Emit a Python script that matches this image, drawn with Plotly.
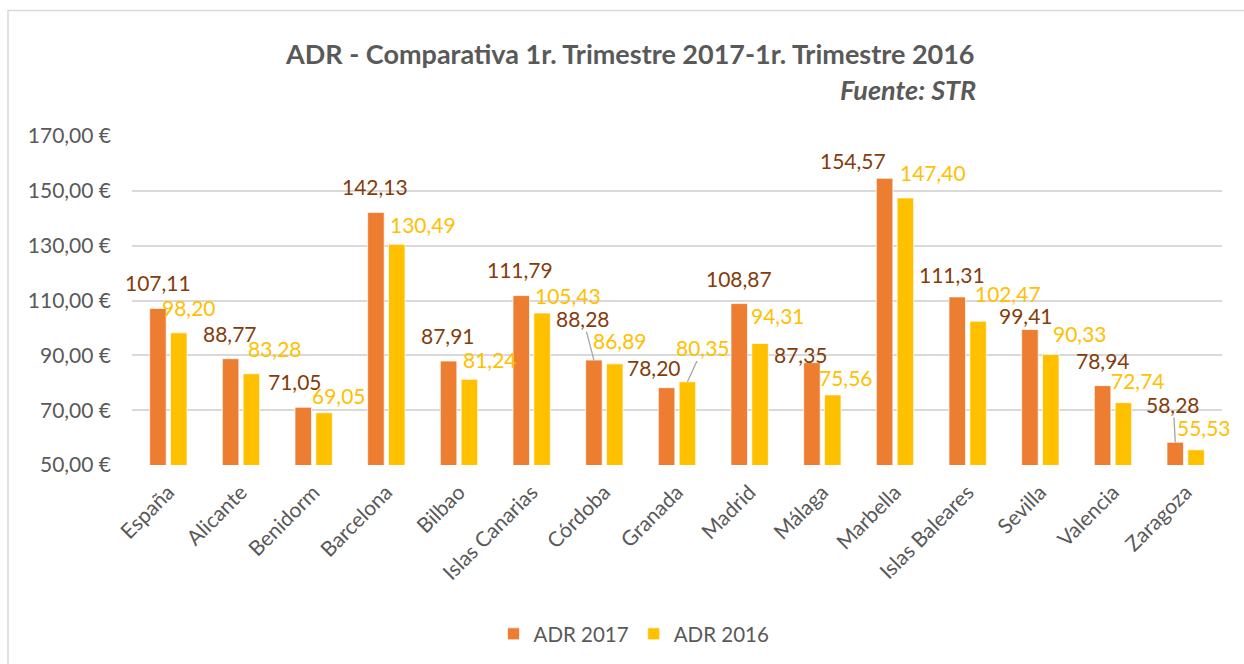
import plotly.graph_objects as go

# ---------------- data ----------------
categories = ["España", "Alicante", "Benidorm", "Barcelona", "Bilbao", "Islas Canarias",
              "Córdoba", "Granada", "Madrid", "Málaga", "Marbella", "Islas Baleares",
              "Sevilla", "Valencia", "Zaragoza"]
adr_2017 = [107.11, 88.77, 71.05, 142.13, 87.91, 111.79, 88.28, 78.20, 108.87, 87.35,
            154.57, 111.31, 99.41, 78.94, 58.28]
adr_2016 = [98.20, 83.28, 69.05, 130.49, 81.24, 105.43, 86.89, 80.35, 94.31, 75.56,
            147.40, 102.47, 90.33, 72.74, 55.53]
series_names = ["ADR 2017", "ADR 2016"]
y_tickvals = [50, 70, 90, 110, 130, 150, 170]
y_ticktext = [f"{v:.2f}".replace(".", ",") + " €" for v in y_tickvals]
title_text = "ADR - Comparativa 1r. Trimestre 2017-1r. Trimestre 2016"
subtitle_text = "Fuente: STR"

# ---------------- label placement (pixels) ----------------
# dx: label centre relative to category centre; dy: label centre above bar top
lab17_dx = [-10.8, -11.3, -19, -11.3, -11, -11.2, -21.3, -23, -10.7, -21, -42.5, -15.2, -14.5, -9.7, -12.4]
lab17_dy = [26, 25.4, 26, 25.6, 25.7, 26, 41.5, 20.5, 25, 8.3, 17.4, 22.6, 14, 25.4, 37.9]
lab16_dx = [20.7, 33.7, 25.3, 36.7, 31, 36.6, 15.4, 26, 28.6, 24, 37.5, 40.6, 39.7, 24.7, 18.1]
lab16_dy = [25.1, 25.5, 16.9, 19.7, 19.5, 17.5, 23.7, 33.8, 28, 17.7, 25, 28, 20.6, 22.5, 22.5]
leader17 = [6, 14]
leader16 = [7]
bar_offset_px = 10.4

# ---------------- styles ----------------
W, H = 1244, 664
ML, MR, MT, MB = 132, 22, 136, 198
PW, PH = W - ML - MR, H - MT - MB
FONT = "Lato"
GREY = "#595959"
C17, C16 = "#ED7D31", "#FFC000"
L17, L16 = "#843C0C", "#FFC000"


def px_x(p):
    return (p - ML) / PW


def px_y(p):
    return (H - MB - p) / PH


fig = go.Figure()
fig.add_trace(go.Bar(x=categories, y=adr_2017, name=series_names[0],
                     marker=dict(color=C17, line=dict(color="rgba(255,255,255,0.7)", width=1))))
fig.add_trace(go.Bar(x=categories, y=adr_2016, name=series_names[1],
                     marker=dict(color=C16, line=dict(color="rgba(255,255,255,0.7)", width=1))))

annotations = []


def add_labels(values, dxs, dys, leaders, sign, color):
    for i, (c, v) in enumerate(zip(categories, values)):
        txt = f"{v:.2f}".replace(".", ",")
        if i in leaders:
            annotations.append(dict(
                x=c, y=v, xref="x", yref="y", text=txt,
                xshift=sign * bar_offset_px,
                showarrow=True, arrowhead=0, arrowwidth=1.3, arrowcolor="#A6A6A6",
                ax=dxs[i] - sign * bar_offset_px, ay=-dys[i],
                standoff=0, startstandoff=0, borderpad=0,
                font=dict(family=FONT, size=21, color=color)))
        else:
            annotations.append(dict(
                x=c, y=v, xref="x", yref="y", text=txt,
                xshift=dxs[i], yshift=dys[i], yanchor="middle", xanchor="center",
                showarrow=False, borderpad=0,
                font=dict(family=FONT, size=21, color=color)))


add_labels(adr_2017, lab17_dx, lab17_dy, leader17, -1, L17)
add_labels(adr_2016, lab16_dx, lab16_dy, leader16, 1, L16)

annotations.append(dict(x=px_x(630), y=px_y(53), xref="paper", yref="paper",
                        text=f"<b>{title_text}</b>", showarrow=False,
                        xanchor="center", yanchor="middle",
                        font=dict(family=FONT, size=27, color=GREY)))
annotations.append(dict(x=px_x(978), y=px_y(89), xref="paper", yref="paper",
                        text=f"<b><i>{subtitle_text}</i></b>", showarrow=False,
                        xanchor="right", yanchor="middle",
                        font=dict(family=FONT, size=27, color=GREY)))

fig.update_layout(
    width=W, height=H,
    margin=dict(l=ML, r=MR, t=MT, b=MB, pad=0),
    paper_bgcolor="white", plot_bgcolor="white",
    barmode="group", bargap=0.427, bargroupgap=0.207,
    showlegend=True,
    legend=dict(orientation="h", x=px_x(634), y=px_y(634), xanchor="center", yanchor="middle",
                font=dict(family=FONT, size=20.5, color=GREY), itemwidth=30,
                bgcolor="rgba(0,0,0,0)"),
    annotations=annotations,
    shapes=[dict(type="rect", xref="paper", yref="paper",
                 x0=px_x(8), x1=px_x(1260), y0=px_y(690), y1=px_y(10),
                 line=dict(color="#D9D9D9", width=1.5), fillcolor="rgba(0,0,0,0)", layer="below")],
    hovermode=False,
)
fig.update_xaxes(type="category", range=[-0.5, len(categories) - 0.5], autorange=False,
                 tickangle=-45, showgrid=False, showline=False, ticks="",
                 tickfont=dict(family=FONT, size=21, color=GREY), ticklabelstandoff=10)
fig.update_yaxes(range=[50, 170], autorange=False, tickvals=y_tickvals, ticktext=y_ticktext,
                 showgrid=True, gridcolor="#D9D9D9", gridwidth=1.5, zeroline=False,
                 showline=False, ticks="", ticklabelstandoff=20,
                 tickfont=dict(family=FONT, size=21, color=GREY))

fig.write_html("out.html", config={"displayModeBar": False},
               post_script="document.body.style.margin='0';document.body.style.overflow='hidden';")
